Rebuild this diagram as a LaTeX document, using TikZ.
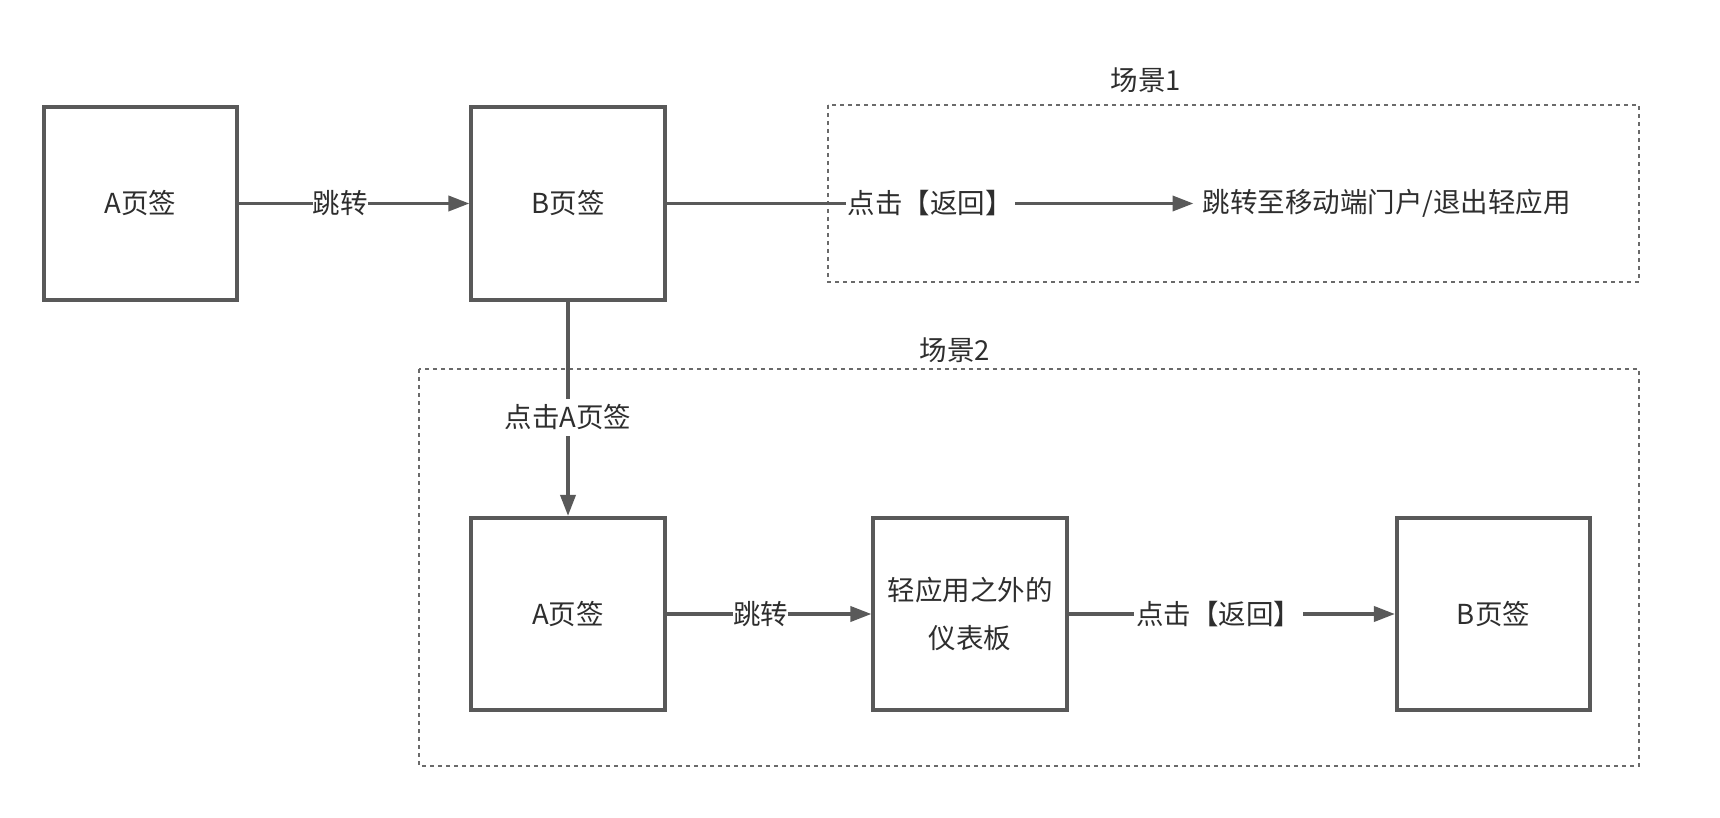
\documentclass[tikz,border=0pt]{standalone}
\usepackage{fontspec}
\setmainfont{Noto Sans CJK SC}
\usetikzlibrary{arrows.meta}
\definecolor{ln}{HTML}{595959}
\definecolor{txt}{HTML}{2E2E2E}
\definecolor{dsh}{HTML}{6A6A6A}
\begin{document}
\begin{tikzpicture}[x=1pt,y=-1pt,
  box/.style={draw=ln, line width=3.6pt, minimum width=193.5pt, minimum height=192.5pt, inner sep=0pt,
    font=\fontsize{27.5}{48}\selectfont, align=center, text=txt},
  conn/.style={draw=ln, line width=3.6pt, -{Triangle[length=21pt,width=15pt]}},
  lbl/.style={fill=white, inner sep=2pt, font=\fontsize{27.5}{30}\selectfont, text=txt},
  scene/.style={draw=dsh, line width=1.6pt, dash pattern=on 4pt off 4pt},
  scenelbl/.style={font=\fontsize{27.5}{30}\selectfont, text=txt, inner sep=0pt}
]
\useasboundingbox (0,0) rectangle (1720,818);

% scene frames
\draw[scene] (828,105) rectangle (1639,282);
\draw[scene] (419,369) rectangle (1639,766);
\node[scenelbl] (s1) at (1146,80) {场景1};
\node[scenelbl] (s2) at (955,350) {场景2};

% boxes
\node[box] (a1) at (140.5,203.5) {A页签};
\node[box] (b1) at (568,203.5) {B页签};
\node[box] (a2) at (568,614) {A页签};
\node[box] (d2) at (970,614) {轻应用之外的\\仪表板};
\node[box] (b2) at (1493.5,614) {B页签};
\node[lbl, anchor=west, inner xsep=9pt] (t1) at (1193.5,203.5) {跳转至移动端门户/退出轻应用};

% connectors
\draw[conn] (a1) -- node[lbl, pos=0.44, inner xsep=0pt] (l1) {跳转} (b1);
\draw[conn] (b1) -- node[lbl, pos=0.5, inner xsep=2pt] (l2) {点击【返回】} (t1);
\draw[conn] (b1) -- node[lbl, pos=0.54, inner ysep=6pt] (l3) {点击A页签} (a2);
\draw[conn] (a2) -- node[lbl, pos=0.46, inner xsep=0pt] (l4) {跳转} (d2);
\draw[conn] (d2) -- node[lbl, pos=0.46, inner xsep=2pt] (l5) {点击【返回】} (b2);
\end{tikzpicture}
\end{document}
